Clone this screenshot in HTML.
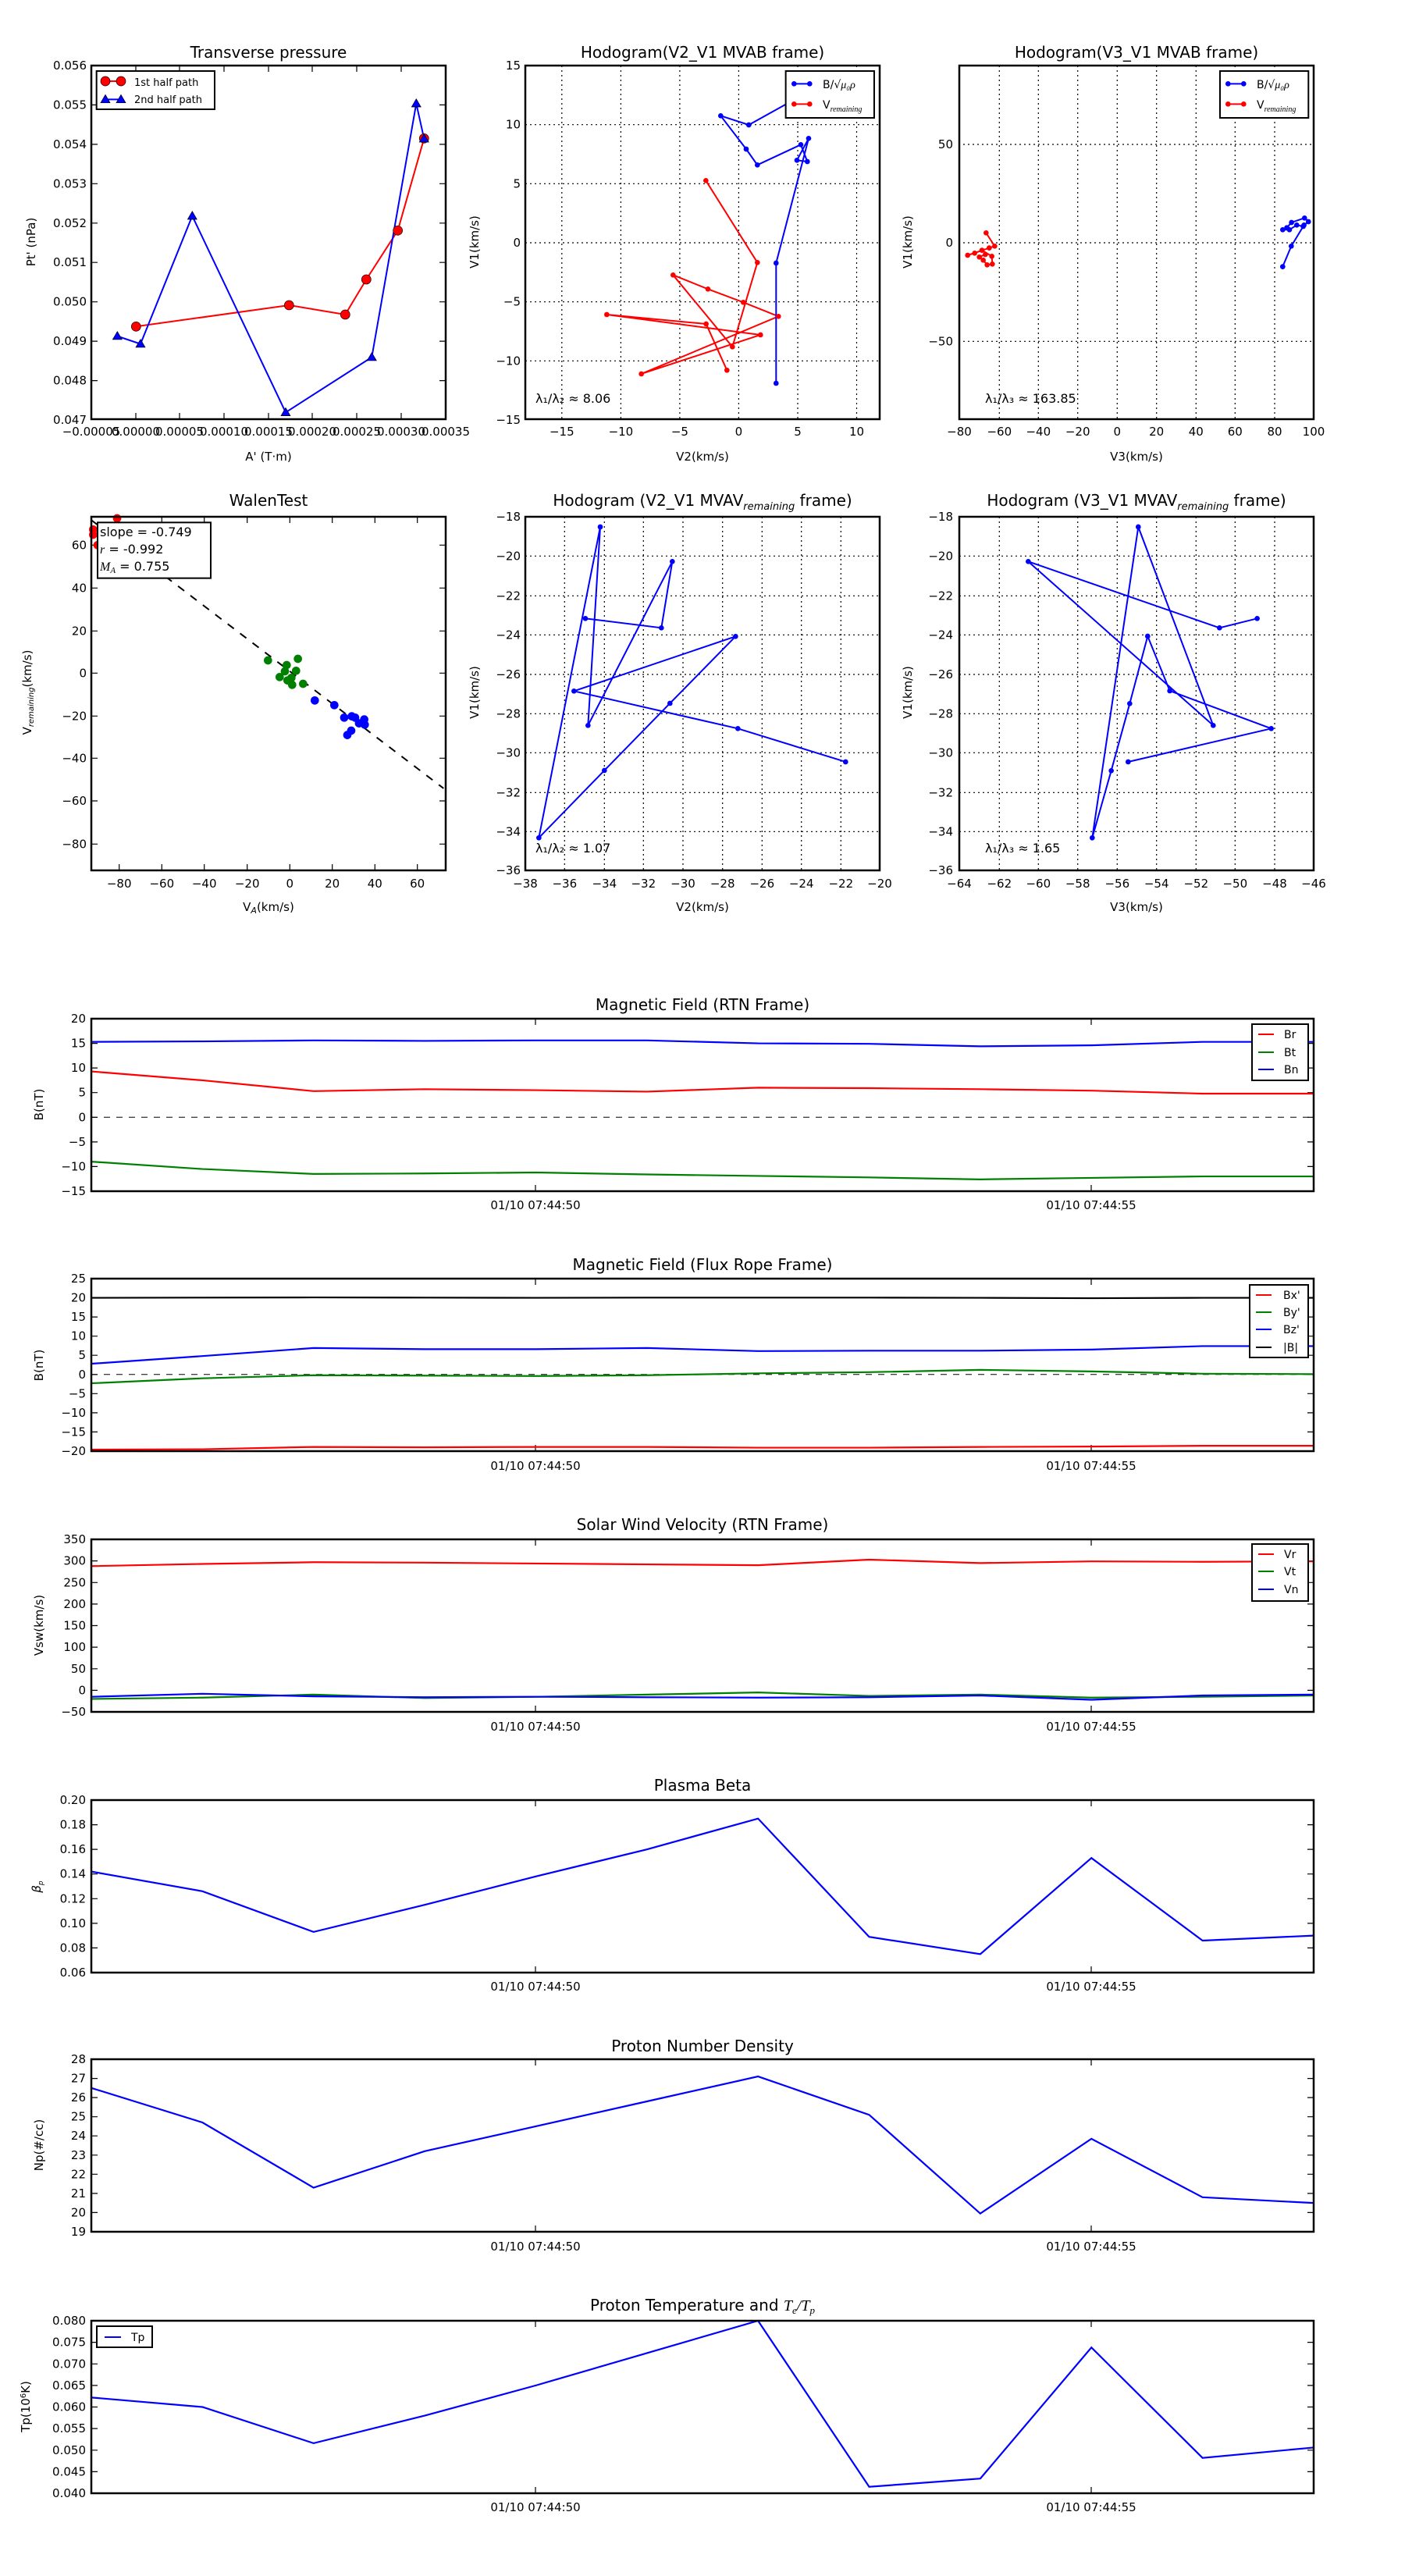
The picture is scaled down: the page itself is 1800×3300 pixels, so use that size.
<!DOCTYPE html>
<html><head><meta charset="utf-8"><style>
html,body{margin:0;padding:0;background:#fff;}
svg{display:block;font-family:"DejaVu Sans","Liberation Sans",sans-serif;}
.t{font-size:15px;fill:#000;}
.ti{font-size:20px;fill:#000;text-anchor:middle;}
.l{font-size:15px;fill:#000;text-anchor:middle;}
.ns{vector-effect:non-scaling-stroke;fill:none;}
.ax{fill:none;stroke:#000;stroke-width:2.5;}
.g{stroke:#000;stroke-width:1.2;stroke-dasharray:2,4;fill:none;}
.tk{stroke:#000;stroke-width:1.2;fill:none;}
</style></head><body>
<svg width="1800" height="3300" viewBox="0 0 1800 3300" xmlns="http://www.w3.org/2000/svg">
<rect width="1800" height="3300" fill="#fff"/>

<!-- ============ ROW 1 PLOT 1 : Transverse pressure ============ -->
<text class="ti" x="344" y="74">Transverse pressure</text>
<path class="tk" d="M117 134.4h8M117 184.9h8M117 235.3h8M117 285.8h8M117 336.2h8M117 386.7h8M117 437.1h8M117 487.6h8M571 134.4h-8M571 184.9h-8M571 235.3h-8M571 285.8h-8M571 336.2h-8M571 386.7h-8M571 437.1h-8M571 487.6h-8M174 537v-8M230 537v-8M287 537v-8M344 537v-8M400 537v-8M457 537v-8M514 537v-8M174 84v8M230 84v8M287 84v8M344 84v8M400 84v8M457 84v8M514 84v8"/>
<g transform="translate(110 80) scale(0.3333)">
<polyline class="ns" stroke="#f00" stroke-width="2" points="193,1015 781,933 997,969 1078,834 1199,646 1300,292"/>
<polyline class="ns" stroke="#00f" stroke-width="2" points="121,1052 210,1082 409,590 768,1345 1099,1133 1270,158 1300,293"/>
<g fill="#f00" stroke="#000" stroke-width="2">
<circle cx="193" cy="1015" r="18"/><circle cx="781" cy="933" r="18"/><circle cx="997" cy="969" r="18"/><circle cx="1078" cy="834" r="18"/><circle cx="1199" cy="646" r="18"/><circle cx="1300" cy="292" r="18"/>
</g>
<g fill="#00f" stroke="#000" stroke-width="2">
<path d="M121 1034l18 31h-36z"/><path d="M210 1064l18 31h-36z"/><path d="M409 572l18 31h-36z"/><path d="M768 1327l18 31h-36z"/><path d="M1099 1115l18 31h-36z"/><path d="M1270 140l18 31h-36z"/><path d="M1300 275l18 31h-36z"/>
</g>
<rect x="41" y="33" width="454" height="147" fill="#fff" stroke="#000" stroke-width="6"/>
<line x1="75" y1="72" x2="135" y2="72" stroke="#f00" stroke-width="6"/>
<circle cx="75" cy="72" r="18" fill="#f00" stroke="#000" stroke-width="2"/><circle cx="135" cy="72" r="18" fill="#f00" stroke="#000" stroke-width="2"/>
<line x1="75" y1="142" x2="135" y2="142" stroke="#00f" stroke-width="6"/>
<path d="M75 124l18 31h-36z" fill="#00f" stroke="#000" stroke-width="2"/><path d="M135 124l18 31h-36z" fill="#00f" stroke="#000" stroke-width="2"/>
</g>
<text x="172" y="110" style="font-size:13px">1st half path</text>
<text x="172" y="132" style="font-size:13px">2nd half path</text>
<rect class="ax" x="117" y="84" width="454" height="453"/>
<g class="t" text-anchor="end">
<text x="111" y="89">0.056</text><text x="111" y="139.4">0.055</text><text x="111" y="189.9">0.054</text><text x="111" y="240.3">0.053</text><text x="111" y="290.8">0.052</text><text x="111" y="341.2">0.051</text><text x="111" y="391.7">0.050</text><text x="111" y="442.1">0.049</text><text x="111" y="492.6">0.048</text><text x="111" y="543">0.047</text>
</g>
<g class="l">
<text x="117" y="558">−0.00005</text><text x="174" y="558">0.00000</text><text x="230" y="558">0.00005</text><text x="287" y="558">0.00010</text><text x="344" y="558">0.00015</text><text x="400" y="558">0.00020</text><text x="457" y="558">0.00025</text><text x="514" y="558">0.00030</text><text x="571" y="558">0.00035</text>
</g>
<text class="l" x="344" y="590">A' (T·m)</text>
<text class="l" transform="translate(45 310) rotate(-90)">Pt' (nPa)</text>

<!-- ============ ROW 1 PLOT 2 ============ -->
<text class="ti" x="900" y="74">Hodogram(V2_V1 MVAB frame)</text>
<path class="g" d="M719.8 84V537M795.4 84V537M870.9 84V537M946.4 84V537M1022 84V537M1097.5 84V537M673 159.7H1127M673 235.3H1127M673 311H1127M673 386.7H1127M673 462.3H1127"/>
<g transform="translate(670 80) scale(0.3333)">
<polyline class="ns" stroke="#f00" stroke-width="2" points="703,454 901,769 805,1093 577,817 711,871 847,922 982,976 455,1197 913,1047 322,969 704,1005 784,1183"/>
<polyline class="ns" stroke="#00f" stroke-width="2" points="973,1233 973,771 1098,292 1053,376 1093,381 1068,316 901,394 858,333 760,205 868,240 1030,150"/>
<g fill="#f00"><circle cx="703" cy="454" r="10"/><circle cx="901" cy="769" r="10"/><circle cx="805" cy="1093" r="10"/><circle cx="577" cy="817" r="10"/><circle cx="711" cy="871" r="10"/><circle cx="847" cy="922" r="10"/><circle cx="982" cy="976" r="10"/><circle cx="455" cy="1197" r="10"/><circle cx="913" cy="1047" r="10"/><circle cx="322" cy="969" r="10"/><circle cx="704" cy="1005" r="10"/><circle cx="784" cy="1183" r="10"/></g>
<g fill="#00f"><circle cx="973" cy="1233" r="10"/><circle cx="973" cy="771" r="10"/><circle cx="1098" cy="292" r="10"/><circle cx="1053" cy="376" r="10"/><circle cx="1093" cy="381" r="10"/><circle cx="1068" cy="316" r="10"/><circle cx="901" cy="394" r="10"/><circle cx="858" cy="333" r="10"/><circle cx="760" cy="205" r="10"/><circle cx="868" cy="240" r="10"/></g>
<rect x="1010" y="33" width="340" height="180" fill="#fff" stroke="#000" stroke-width="6"/>
<line x1="1042" y1="82" x2="1102" y2="82" stroke="#00f" stroke-width="6"/><circle cx="1042" cy="82" r="10" fill="#00f"/><circle cx="1102" cy="82" r="10" fill="#00f"/>
<line x1="1042" y1="160" x2="1102" y2="160" stroke="#f00" stroke-width="6"/><circle cx="1042" cy="160" r="10" fill="#f00"/><circle cx="1102" cy="160" r="10" fill="#f00"/>
</g>
<text x="1054" y="113" style="font-size:14px">B/√<tspan font-style="italic" font-family="Liberation Serif">μ₀ρ</tspan></text>
<text x="1054" y="139" style="font-size:14px">V<tspan font-style="italic" font-family="Liberation Serif" font-size="10" dy="4">remaining</tspan></text>
<text x="686" y="516" style="font-size:16px">λ₁/λ₂ ≈ 8.06</text>
<rect class="ax" x="673" y="84" width="454" height="453"/>
<g class="t" text-anchor="end">
<text x="667" y="89">15</text><text x="667" y="164.7">10</text><text x="667" y="240.3">5</text><text x="667" y="316">0</text><text x="667" y="391.7">−5</text><text x="667" y="467.3">−10</text><text x="667" y="543">−15</text>
</g>
<g class="l"><text x="719.8" y="558">−15</text><text x="795.4" y="558">−10</text><text x="870.9" y="558">−5</text><text x="946.4" y="558">0</text><text x="1022" y="558">5</text><text x="1097.5" y="558">10</text></g>
<text class="l" x="900" y="590">V2(km/s)</text>
<text class="l" transform="translate(613 310) rotate(-90)">V1(km/s)</text>

<!-- ============ ROW 1 PLOT 3 ============ -->
<text class="ti" x="1456" y="74">Hodogram(V3_V1 MVAB frame)</text>
<path class="g" d="M1280.3 84V537M1330.3 84V537M1380.7 84V537M1431.3 84V537M1481.7 84V537M1532.3 84V537M1582.3 84V537M1633 84V537M1228 185H1683M1228 311H1683M1228 437.3H1683"/>
<g transform="translate(1228 80) scale(0.3333)">
<polyline class="ns" stroke="#f00" stroke-width="2" points="106,655 139,706 118,713 35,741 62,733 90,722 128,745 130,775 110,778 95,760 80,748 103,738"/>
<polyline class="ns" stroke="#00f" stroke-width="2" points="1246,785 1279,706 1328,625 1345,612 1330,598 1280,615 1262,635 1246,643 1272,643 1300,625 1325,630"/>
<g fill="#f00"><circle cx="106" cy="655" r="10"/><circle cx="139" cy="706" r="10"/><circle cx="118" cy="713" r="10"/><circle cx="35" cy="741" r="10"/><circle cx="62" cy="733" r="10"/><circle cx="90" cy="722" r="10"/><circle cx="128" cy="745" r="10"/><circle cx="130" cy="775" r="10"/><circle cx="110" cy="778" r="10"/><circle cx="95" cy="760" r="10"/><circle cx="80" cy="748" r="10"/><circle cx="103" cy="738" r="10"/></g>
<g fill="#00f"><circle cx="1246" cy="785" r="10"/><circle cx="1279" cy="706" r="10"/><circle cx="1328" cy="625" r="10"/><circle cx="1345" cy="612" r="10"/><circle cx="1330" cy="598" r="10"/><circle cx="1280" cy="615" r="10"/><circle cx="1262" cy="635" r="10"/><circle cx="1246" cy="643" r="10"/><circle cx="1272" cy="643" r="10"/><circle cx="1300" cy="625" r="10"/><circle cx="1325" cy="630" r="10"/></g>
<rect x="1005" y="33" width="340" height="180" fill="#fff" stroke="#000" stroke-width="6"/>
<line x1="1036" y1="82" x2="1096" y2="82" stroke="#00f" stroke-width="6"/><circle cx="1036" cy="82" r="10" fill="#00f"/><circle cx="1096" cy="82" r="10" fill="#00f"/>
<line x1="1036" y1="160" x2="1096" y2="160" stroke="#f00" stroke-width="6"/><circle cx="1036" cy="160" r="10" fill="#f00"/><circle cx="1096" cy="160" r="10" fill="#f00"/>
</g>
<text x="1610" y="113" style="font-size:14px">B/√<tspan font-style="italic" font-family="Liberation Serif">μ₀ρ</tspan></text>
<text x="1610" y="139" style="font-size:14px">V<tspan font-style="italic" font-family="Liberation Serif" font-size="10" dy="4">remaining</tspan></text>
<text x="1262" y="516" style="font-size:16px">λ₁/λ₃ ≈ 163.85</text>
<rect class="ax" x="1229" y="84" width="454" height="453"/>
<g class="t" text-anchor="end"><text x="1221" y="190">50</text><text x="1221" y="316">0</text><text x="1221" y="442.3">−50</text></g>
<g class="l"><text x="1229" y="558">−80</text><text x="1280.3" y="558">−60</text><text x="1330.3" y="558">−40</text><text x="1380.7" y="558">−20</text><text x="1431.3" y="558">0</text><text x="1481.7" y="558">20</text><text x="1532.3" y="558">40</text><text x="1582.3" y="558">60</text><text x="1633" y="558">80</text><text x="1683" y="558">100</text></g>
<text class="l" x="1456" y="590">V3(km/s)</text>
<text class="l" transform="translate(1168 310) rotate(-90)">V1(km/s)</text>

<!-- ============ ROW 2 PLOT 1 : WalenTest ============ -->
<text class="ti" x="344" y="648">WalenTest</text>
<path class="tk" d="M152.7 1115v-8M207.3 1115v-8M261.7 1115v-8M316.7 1115v-8M371.3 1115v-8M425.7 1115v-8M480.3 1115v-8M534.7 1115v-8M152.7 662v8M207.3 662v8M261.7 662v8M316.7 662v8M371.3 662v8M425.7 662v8M480.3 662v8M534.7 662v8M117 698.3h8M117 753.3h8M117 808.3h8M117 862.3h8M117 917.3h8M117 971.3h8M117 1026h8M117 1081.3h8M571 698.3h-8M571 753.3h-8M571 808.3h-8M571 862.3h-8M571 917.3h-8M571 971.3h-8M571 1026h-8M571 1081.3h-8"/>
<g transform="translate(110 660) scale(0.3333)">
<line x1="20" y1="18" x2="1375" y2="1050" class="ns" stroke="#000" stroke-width="2" stroke-dasharray="10,10"/>
<g fill="#f00"><circle cx="28" cy="75" r="16"/><circle cx="45" cy="115" r="16"/><circle cx="120" cy="12" r="16"/><circle cx="28" cy="55" r="16"/></g>
<g fill="#008000"><circle cx="700" cy="558" r="16"/><circle cx="815" cy="552" r="16"/><circle cx="772" cy="576" r="16"/><circle cx="808" cy="598" r="16"/><circle cx="745" cy="622" r="16"/><circle cx="775" cy="635" r="16"/><circle cx="793" cy="652" r="16"/><circle cx="835" cy="648" r="16"/><circle cx="765" cy="600" r="16"/><circle cx="790" cy="625" r="16"/></g>
<g fill="#00f"><circle cx="880" cy="712" r="16"/><circle cx="955" cy="730" r="16"/><circle cx="993" cy="778" r="16"/><circle cx="1022" cy="773" r="16"/><circle cx="1035" cy="778" r="16"/><circle cx="1070" cy="785" r="16"/><circle cx="1072" cy="805" r="16"/><circle cx="1050" cy="800" r="16"/><circle cx="1020" cy="828" r="16"/><circle cx="1005" cy="845" r="16"/></g>
<rect x="45" y="28" width="435" height="214" fill="#fff" stroke="#000" stroke-width="6"/>
</g>
<text x="128" y="687" style="font-size:16px">slope = -0.749</text>
<text x="128" y="709" style="font-size:16px"><tspan font-style="italic" font-family="Liberation Serif">r</tspan> = -0.992</text>
<text x="128" y="731" style="font-size:16px"><tspan font-style="italic" font-family="Liberation Serif">M<tspan font-size="11" dy="3">A</tspan></tspan><tspan dy="-3"> = 0.755</tspan></text>
<rect class="ax" x="117" y="662" width="454" height="453"/>
<g class="t" text-anchor="end"><text x="111" y="703.3">60</text><text x="111" y="758.3">40</text><text x="111" y="813.3">20</text><text x="111" y="867.3">0</text><text x="111" y="922.3">−20</text><text x="111" y="976.3">−40</text><text x="111" y="1031">−60</text><text x="111" y="1086.3">−80</text></g>
<g class="l"><text x="152.7" y="1137">−80</text><text x="207.3" y="1137">−60</text><text x="261.7" y="1137">−40</text><text x="316.7" y="1137">−20</text><text x="371.3" y="1137">0</text><text x="425.7" y="1137">20</text><text x="480.3" y="1137">40</text><text x="534.7" y="1137">60</text></g>
<text class="l" x="344" y="1167">V<tspan font-size="11" font-style="italic" dy="3">A</tspan><tspan dy="-3">(km/s)</tspan></text>
<text class="l" transform="translate(40 887) rotate(-90)">V<tspan font-size="10" font-style="italic" dy="3">remaining</tspan><tspan dy="-3">(km/s)</tspan></text>

<!-- ============ ROW 2 PLOT 2 ============ -->
<text class="ti" x="900" y="648">Hodogram (V2_V1 MVAV<tspan font-size="13" font-style="italic" dy="5">remaining</tspan><tspan dy="-5"> frame)</tspan></text>
<path class="g" d="M723.3 662V1115M774.3 662V1115M824.3 662V1115M875 662V1115M925.7 662V1115M976.3 662V1115M1026.7 662V1115M1077.3 662V1115M673 712.3H1127M673 763.3H1127M673 813.3H1127M673 864H1127M673 914.3H1127M673 964.3H1127M673 1015.3H1127M673 1065.3H1127"/>
<g transform="translate(670 660) scale(0.3333)">
<polyline class="ns" stroke="#00f" stroke-width="2" points="1240,948 826,820 196,676 817,466 565,723 313,981 61,1240 297,45 250,808 574,178 532,433 240,397"/>
<g fill="#00f"><circle cx="1240" cy="948" r="10"/><circle cx="826" cy="820" r="10"/><circle cx="196" cy="676" r="10"/><circle cx="817" cy="466" r="10"/><circle cx="565" cy="723" r="10"/><circle cx="313" cy="981" r="10"/><circle cx="61" cy="1240" r="10"/><circle cx="297" cy="45" r="10"/><circle cx="250" cy="808" r="10"/><circle cx="574" cy="178" r="10"/><circle cx="532" cy="433" r="10"/><circle cx="240" cy="397" r="10"/></g>
</g>
<text x="686" y="1092" style="font-size:16px">λ₁/λ₂ ≈ 1.07</text>
<rect class="ax" x="673" y="662" width="454" height="453"/>
<g class="t" text-anchor="end"><text x="667" y="667">−18</text><text x="667" y="717.3">−20</text><text x="667" y="768.3">−22</text><text x="667" y="818.3">−24</text><text x="667" y="869">−26</text><text x="667" y="919.3">−28</text><text x="667" y="969.3">−30</text><text x="667" y="1020.3">−32</text><text x="667" y="1070.3">−34</text><text x="667" y="1120">−36</text></g>
<g class="l"><text x="673" y="1137">−38</text><text x="723.3" y="1137">−36</text><text x="774.3" y="1137">−34</text><text x="824.3" y="1137">−32</text><text x="875" y="1137">−30</text><text x="925.7" y="1137">−28</text><text x="976.3" y="1137">−26</text><text x="1026.7" y="1137">−24</text><text x="1077.3" y="1137">−22</text><text x="1127" y="1137">−20</text></g>
<text class="l" x="900" y="1167">V2(km/s)</text>
<text class="l" transform="translate(613 887) rotate(-90)">V1(km/s)</text>

<!-- ============ ROW 2 PLOT 3 ============ -->
<text class="ti" x="1456" y="648">Hodogram (V3_V1 MVAV<tspan font-size="13" font-style="italic" dy="5">remaining</tspan><tspan dy="-5"> frame)</tspan></text>
<path class="g" d="M1280.3 662V1115M1330.3 662V1115M1380.7 662V1115M1431.3 662V1115M1481.7 662V1115M1532.3 662V1115M1582.3 662V1115M1633 662V1115M1229 712.3H1683M1229 763.3H1683M1229 813.3H1683M1229 864H1683M1229 914.3H1683M1229 964.3H1683M1229 1015.3H1683M1229 1065.3H1683"/>
<g transform="translate(1228 660) scale(0.3333)">
<polyline class="ns" stroke="#00f" stroke-width="2" points="1148,397 1003,433 268,178 979,808 691,45 514,1240 587,982 658,724 727,465 812,675 1202,820 652,948"/>
<g fill="#00f"><circle cx="1148" cy="397" r="10"/><circle cx="1003" cy="433" r="10"/><circle cx="268" cy="178" r="10"/><circle cx="979" cy="808" r="10"/><circle cx="691" cy="45" r="10"/><circle cx="514" cy="1240" r="10"/><circle cx="587" cy="982" r="10"/><circle cx="658" cy="724" r="10"/><circle cx="727" cy="465" r="10"/><circle cx="812" cy="675" r="10"/><circle cx="1202" cy="820" r="10"/><circle cx="652" cy="948" r="10"/></g>
</g>
<text x="1262" y="1092" style="font-size:16px">λ₁/λ₃ ≈ 1.65</text>
<rect class="ax" x="1229" y="662" width="454" height="453"/>
<g class="t" text-anchor="end"><text x="1221" y="667">−18</text><text x="1221" y="717.3">−20</text><text x="1221" y="768.3">−22</text><text x="1221" y="818.3">−24</text><text x="1221" y="869">−26</text><text x="1221" y="919.3">−28</text><text x="1221" y="969.3">−30</text><text x="1221" y="1020.3">−32</text><text x="1221" y="1070.3">−34</text><text x="1221" y="1120">−36</text></g>
<g class="l"><text x="1229" y="1137">−64</text><text x="1280.3" y="1137">−62</text><text x="1330.3" y="1137">−60</text><text x="1380.7" y="1137">−58</text><text x="1431.3" y="1137">−56</text><text x="1481.7" y="1137">−54</text><text x="1532.3" y="1137">−52</text><text x="1582.3" y="1137">−50</text><text x="1633" y="1137">−48</text><text x="1683" y="1137">−46</text></g>
<text class="l" x="1456" y="1167">V3(km/s)</text>
<text class="l" transform="translate(1168 887) rotate(-90)">V1(km/s)</text>

<!-- ============ TIME SERIES ============ -->
<!-- RTN -->
<text class="ti" x="900" y="1294">Magnetic Field (RTN Frame)</text>
<path class="tk" d="M686 1526v-8M1398 1526v-8M686 1305v8M1398 1305v8M117 1336.6h8M117 1368.1h8M117 1399.7h8M117 1431.3h8M117 1462.9h8M117 1494.4h8M1683 1336.6h-8M1683 1368.1h-8M1683 1399.7h-8M1683 1431.3h-8M1683 1462.9h-8M1683 1494.4h-8"/>
<line x1="117" y1="1431.3" x2="1683" y2="1431.3" stroke="#000" stroke-width="1" stroke-dasharray="8,8"/>
<g transform="translate(117 1526) scale(142.36 -6.314) translate(0 15)">
<polyline class="ns" stroke="#00f" stroke-width="2.2" points="0,15.3 1,15.4 2,15.6 3,15.5 4,15.6 5,15.6 6,15.0 7,14.9 8,14.4 9,14.6 10,15.3 11,15.3"/>
<polyline class="ns" stroke="#f00" stroke-width="2.2" points="0,9.3 1,7.5 2,5.3 3,5.7 4,5.5 5,5.2 6,6.0 7,5.9 8,5.7 9,5.4 10,4.8 11,4.8"/>
<polyline class="ns" stroke="#008000" stroke-width="2.2" points="0,-9 1,-10.5 2,-11.5 3,-11.4 4,-11.2 5,-11.6 6,-11.9 7,-12.2 8,-12.6 9,-12.3 10,-12 11,-12"/>
</g>
<rect x="1604" y="1312" width="72" height="72" fill="#fff" stroke="#000" stroke-width="2"/>
<path d="M1612 1325h20" stroke="#f00" stroke-width="2"/><path d="M1612 1348h20" stroke="#008000" stroke-width="2"/><path d="M1612 1370h20" stroke="#00f" stroke-width="2"/>
<g style="font-size:14px"><text x="1645" y="1330">Br</text><text x="1645" y="1353">Bt</text><text x="1645" y="1375">Bn</text></g>
<rect class="ax" x="117" y="1305" width="1566" height="221"/>
<g class="t" text-anchor="end"><text x="110" y="1310">20</text><text x="110" y="1341.6">15</text><text x="110" y="1373.1">10</text><text x="110" y="1404.7">5</text><text x="110" y="1436.3">0</text><text x="110" y="1467.9">−5</text><text x="110" y="1499.4">−10</text><text x="110" y="1531">−15</text></g>
<g class="l"><text x="686" y="1549">01/10 07:44:50</text><text x="1398" y="1549">01/10 07:44:55</text></g>
<text class="l" transform="translate(55 1415) rotate(-90)">B(nT)</text>

<!-- Flux rope -->
<text class="ti" x="900" y="1627">Magnetic Field (Flux Rope Frame)</text>
<path class="tk" d="M686 1859v-8M1398 1859v-8M686 1638v8M1398 1638v8M117 1662.6h8M117 1687.1h8M117 1711.7h8M117 1736.2h8M117 1760.8h8M117 1785.3h8M117 1809.9h8M117 1834.4h8M1683 1662.6h-8M1683 1687.1h-8M1683 1711.7h-8M1683 1736.2h-8M1683 1760.8h-8M1683 1785.3h-8M1683 1809.9h-8M1683 1834.4h-8"/>
<line x1="117" y1="1760.8" x2="1683" y2="1760.8" stroke="#000" stroke-width="1" stroke-dasharray="8,8"/>
<g transform="translate(117 1859) scale(142.36 -4.911) translate(0 20)">
<polyline class="ns" stroke="#000" stroke-width="2.2" points="0,20 1,20.05 2,20.1 3,20.05 4,20 5,20.05 6,20.05 7,20.05 8,20 9,19.9 10,20 11,20"/>
<polyline class="ns" stroke="#00f" stroke-width="2.2" points="0,2.8 1,4.8 2,6.9 3,6.6 4,6.6 5,6.9 6,6.1 7,6.2 8,6.2 9,6.5 10,7.4 11,7.4"/>
<polyline class="ns" stroke="#008000" stroke-width="2.2" points="0,-2.3 1,-1.0 2,-0.2 3,-0.3 4,-0.4 5,-0.2 6,0.3 7,0.6 8,1.2 9,0.8 10,0.2 11,0.1"/>
<polyline class="ns" stroke="#f00" stroke-width="2.2" points="0,-19.6 1,-19.5 2,-18.9 3,-19 4,-18.9 5,-18.9 6,-19.1 7,-19.1 8,-18.9 9,-18.8 10,-18.6 11,-18.6"/>
</g>
<rect x="1601" y="1646" width="75" height="93" fill="#fff" stroke="#000" stroke-width="2"/>
<path d="M1609 1659h20" stroke="#f00" stroke-width="2"/><path d="M1609 1681h20" stroke="#008000" stroke-width="2"/><path d="M1609 1703h20" stroke="#00f" stroke-width="2"/><path d="M1609 1726h20" stroke="#000" stroke-width="2"/>
<g style="font-size:14px"><text x="1644" y="1664">Bx'</text><text x="1644" y="1686">By'</text><text x="1644" y="1708">Bz'</text><text x="1644" y="1731">|B|</text></g>
<rect class="ax" x="117" y="1638" width="1566" height="221"/>
<g class="t" text-anchor="end"><text x="110" y="1643">25</text><text x="110" y="1667.6">20</text><text x="110" y="1692.1">15</text><text x="110" y="1716.7">10</text><text x="110" y="1741.2">5</text><text x="110" y="1765.8">0</text><text x="110" y="1790.3">−5</text><text x="110" y="1814.9">−10</text><text x="110" y="1839.4">−15</text><text x="110" y="1864">−20</text></g>
<g class="l"><text x="686" y="1883">01/10 07:44:50</text><text x="1398" y="1883">01/10 07:44:55</text></g>
<text class="l" transform="translate(55 1749) rotate(-90)">B(nT)</text>

<!-- Velocity -->
<text class="ti" x="900" y="1960">Solar Wind Velocity (RTN Frame)</text>
<path class="tk" d="M686 2193v-8M1398 2193v-8M686 1972v8M1398 1972v8M117 1999.6h8M117 2027.3h8M117 2054.9h8M117 2082.5h8M117 2110.1h8M117 2137.8h8M117 2165.4h8M1683 1999.6h-8M1683 2027.3h-8M1683 2054.9h-8M1683 2082.5h-8M1683 2110.1h-8M1683 2137.8h-8M1683 2165.4h-8"/>
<g transform="translate(117 2193) scale(142.36 -0.5525) translate(0 50)">
<polyline class="ns" stroke="#f00" stroke-width="2.2" points="0,288 1,293 2,297 3,296 4,294 5,292 6,290 7,303 8,295 9,299 10,298 11,299"/>
<polyline class="ns" stroke="#008000" stroke-width="2.2" points="0,-20 1,-17 2,-10 3,-18 4,-15 5,-10 6,-5 7,-13 8,-10 9,-17 10,-15 11,-12"/>
<polyline class="ns" stroke="#00f" stroke-width="2.2" points="0,-15 1,-8 2,-14 3,-16 4,-15 5,-16 6,-17 7,-16 8,-12 9,-22 10,-12 11,-10"/>
</g>
<rect x="1604" y="1978" width="72" height="73" fill="#fff" stroke="#000" stroke-width="2"/>
<path d="M1612 1991h20" stroke="#f00" stroke-width="2"/><path d="M1612 2013h20" stroke="#008000" stroke-width="2"/><path d="M1612 2036h20" stroke="#00f" stroke-width="2"/>
<g style="font-size:14px"><text x="1645" y="1996">Vr</text><text x="1645" y="2018">Vt</text><text x="1645" y="2041">Vn</text></g>
<rect class="ax" x="117" y="1972" width="1566" height="221"/>
<g class="t" text-anchor="end"><text x="110" y="1977">350</text><text x="110" y="2004.6">300</text><text x="110" y="2032.3">250</text><text x="110" y="2059.9">200</text><text x="110" y="2087.5">150</text><text x="110" y="2115.1">100</text><text x="110" y="2142.8">50</text><text x="110" y="2170.4">0</text><text x="110" y="2198">−50</text></g>
<g class="l"><text x="686" y="2217">01/10 07:44:50</text><text x="1398" y="2217">01/10 07:44:55</text></g>
<text class="l" transform="translate(55 2082) rotate(-90)">Vsw(km/s)</text>

<!-- Beta -->
<text class="ti" x="900" y="2294">Plasma Beta</text>
<path class="tk" d="M686 2527v-8M1398 2527v-8M686 2306v8M1398 2306v8M117 2337.6h8M117 2369.1h8M117 2400.7h8M117 2432.3h8M117 2463.9h8M117 2495.4h8M1683 2337.6h-8M1683 2369.1h-8M1683 2400.7h-8M1683 2432.3h-8M1683 2463.9h-8M1683 2495.4h-8"/>
<g transform="translate(117 2527) scale(142.36 -1578.6) translate(0 -0.06)">
<polyline class="ns" stroke="#00f" stroke-width="2.2" points="0,0.142 1,0.126 2,0.093 3,0.115 4,0.138 5,0.160 6,0.185 7,0.089 8,0.075 9,0.153 10,0.086 11,0.090"/>
</g>
<rect class="ax" x="117" y="2306" width="1566" height="221"/>
<g class="t" text-anchor="end"><text x="110" y="2311">0.20</text><text x="110" y="2342.6">0.18</text><text x="110" y="2374.1">0.16</text><text x="110" y="2405.7">0.14</text><text x="110" y="2437.3">0.12</text><text x="110" y="2468.9">0.10</text><text x="110" y="2500.4">0.08</text><text x="110" y="2532">0.06</text></g>
<g class="l"><text x="686" y="2550">01/10 07:44:50</text><text x="1398" y="2550">01/10 07:44:55</text></g>
<text class="l" transform="translate(52 2417) rotate(-90)" font-style="italic" font-size="13">β<tspan font-size="9" dy="3">p</tspan></text>

<!-- Np -->
<text class="ti" x="900" y="2628">Proton Number Density</text>
<path class="tk" d="M686 2859v-8M1398 2859v-8M686 2638v8M1398 2638v8M117 2662.6h8M117 2687.1h8M117 2711.7h8M117 2736.2h8M117 2760.8h8M117 2785.3h8M117 2809.9h8M117 2834.4h8M1683 2662.6h-8M1683 2687.1h-8M1683 2711.7h-8M1683 2736.2h-8M1683 2760.8h-8M1683 2785.3h-8M1683 2809.9h-8M1683 2834.4h-8"/>
<g transform="translate(117 2859) scale(142.36 -24.56) translate(0 -19)">
<polyline class="ns" stroke="#00f" stroke-width="2.2" points="0,26.5 1,24.7 2,21.3 3,23.2 4,24.5 5,25.8 6,27.1 7,25.1 8,19.95 9,23.85 10,20.8 11,20.5"/>
</g>
<rect class="ax" x="117" y="2638" width="1566" height="221"/>
<g class="t" text-anchor="end"><text x="110" y="2643">28</text><text x="110" y="2667.6">27</text><text x="110" y="2692.1">26</text><text x="110" y="2716.7">25</text><text x="110" y="2741.2">24</text><text x="110" y="2765.8">23</text><text x="110" y="2790.3">22</text><text x="110" y="2814.9">21</text><text x="110" y="2839.4">20</text><text x="110" y="2864">19</text></g>
<g class="l"><text x="686" y="2883">01/10 07:44:50</text><text x="1398" y="2883">01/10 07:44:55</text></g>
<text class="l" transform="translate(55 2748) rotate(-90)">Np(#/cc)</text>

<!-- Tp -->
<text class="ti" x="900" y="2960">Proton Temperature and <tspan font-family="Liberation Serif" font-style="italic">T<tspan font-size="13" dy="4">e</tspan><tspan dy="-4">/T</tspan><tspan font-size="13" dy="4">p</tspan></tspan></text>
<path class="tk" d="M686 3194v-8M1398 3194v-8M686 2973v8M1398 2973v8M117 3000.6h8M117 3028.3h8M117 3055.9h8M117 3083.5h8M117 3111.1h8M117 3138.8h8M117 3166.4h8M1683 3000.6h-8M1683 3028.3h-8M1683 3055.9h-8M1683 3083.5h-8M1683 3111.1h-8M1683 3138.8h-8M1683 3166.4h-8"/>
<g transform="translate(117 3194) scale(142.36 -5525) translate(0 -0.04)">
<polyline class="ns" stroke="#00f" stroke-width="2.2" points="0,0.0622 1,0.0600 2,0.0516 3,0.058 4,0.065 5,0.0725 6,0.080 7,0.0415 8,0.0434 9,0.0738 10,0.0482 11,0.0506"/>
</g>
<rect x="124" y="2980" width="71" height="27" fill="#fff" stroke="#000" stroke-width="2"/>
<path d="M134 2994h21" stroke="#00f" stroke-width="2"/>
<text x="168" y="2999" style="font-size:14px">Tp</text>
<rect class="ax" x="117" y="2973" width="1566" height="221"/>
<g class="t" text-anchor="end"><text x="110" y="2978">0.080</text><text x="110" y="3005.6">0.075</text><text x="110" y="3033.3">0.070</text><text x="110" y="3060.9">0.065</text><text x="110" y="3088.5">0.060</text><text x="110" y="3116.1">0.055</text><text x="110" y="3143.8">0.050</text><text x="110" y="3171.4">0.045</text><text x="110" y="3199">0.040</text></g>
<g class="l"><text x="686" y="3217">01/10 07:44:50</text><text x="1398" y="3217">01/10 07:44:55</text></g>
<text class="l" transform="translate(38 3083) rotate(-90)">Tp(10<tspan font-size="10" dy="-5">6</tspan><tspan dy="5">K)</tspan></text>
</svg>
</body></html>
